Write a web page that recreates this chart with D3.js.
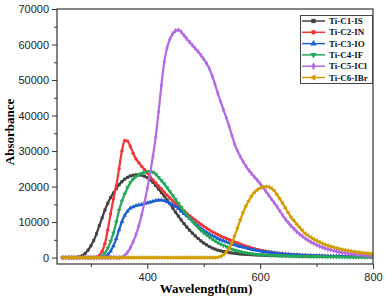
<!DOCTYPE html>
<html>
<head>
<meta charset="utf-8">
<script src="https://cdn.jsdelivr.net/npm/d3@7"></script>
<style>
  body { margin: 0; background: #fff; }
  svg { display: block; }
</style>
</head>
<body>
<svg id="chart"></svg>
<script>
var width = 387;
var height = 299;

// wavelength grid (nm), every 5 nm
var wavelengths = [250,255,260,265,270,275,280,285,290,295,
  300,305,310,315,320,325,330,335,340,345,
  350,355,360,365,370,375,380,385,390,395,
  400,405,410,415,420,425,430,435,440,445,
  450,455,460,465,470,475,480,485,490,495,
  500,505,510,515,520,525,530,535,540,545,
  550,555,560,565,570,575,580,585,590,595,
  600,605,610,615,620,625,630,635,640,645,
  650,655,660,665,670,675,680,685,690,695,
  700,705,710,715,720,725,730,735,740,745,
  750,755,760,765,770,775,780,785,790,795,800];

var seriesNames = ["Ti-C1-IS", "Ti-C2-IN", "Ti-C3-IO", "Ti-C4-IF", "Ti-C5-ICl", "Ti-C6-IBr"];

var c1 = [0,0,0,0,0,50,250,600,1200,2100,
  3300,4800,6700,9000,11200,13400,15300,16900,18200,19400,
  20500,21400,22100,22600,23000,23200,23300,23300,23200,22900,
  22500,21900,21200,20300,19300,18300,17300,16300,15200,14000,
  12800,11700,10600,9600,8600,7700,6900,6100,5400,4700,
  4100,3600,3100,2700,2400,2100,1900,1700,1600,1400,
  1300,1200,1100,1000,950,900,850,800,760,730,
  700,670,640,610,590,570,550,530,510,490,
  470,455,440,425,410,400,390,380,370,360,
  350,340,330,320,310,300,295,290,285,280,
  275,270,265,260,255,250,245,240,235,230,225];

var c2 = [0,0,0,0,0,0,0,0,0,0,
  0,50,200,600,1800,4000,7800,12300,16500,20200,
  25000,30000,33000,32800,31300,29400,27800,26700,25700,24800,
  23800,22800,21900,21000,20100,19300,18400,17600,16800,16000,
  15300,14600,13900,13200,12500,11800,11200,10600,10000,9400,
  8800,8300,7800,7300,6900,6500,6100,5700,5400,5100,
  4700,4400,4100,3800,3500,3200,3000,2700,2500,2300,
  2100,1950,1800,1650,1500,1400,1300,1200,1100,1000,
  950,900,850,800,750,700,650,620,590,560,
  530,500,480,460,440,420,400,385,370,355,
  340,330,320,310,300,290,280,270,260,250,240];

var c3 = [0,0,0,0,0,0,0,0,0,0,
  0,0,0,0,0,200,800,1800,3300,5300,
  7800,10100,11900,13100,13900,14300,14600,14800,15000,15200,
  15400,15600,15850,16050,16200,16200,16000,15700,15300,14900,
  14400,13800,13100,12400,11700,11000,10300,9600,8900,8200,
  7600,7100,6600,6200,5800,5400,5000,4700,4400,4100,
  3800,3600,3300,3100,2900,2700,2500,2300,2150,2000,
  1850,1700,1600,1500,1400,1300,1200,1120,1040,970,
  900,850,800,750,700,660,620,590,560,530,
  500,480,460,440,420,400,385,370,355,340,
  330,320,310,300,290,280,270,260,250,240,230];

var c4 = [0,0,0,0,0,0,0,0,0,0,
  0,0,0,100,500,1300,2700,4600,6900,10000,
  13300,15900,17900,19700,21100,22100,22800,23300,23700,24000,
  24200,24250,24100,23500,22600,21700,20800,19700,18600,17500,
  16400,15300,14200,13100,12100,11100,10200,9300,8500,7700,
  7000,6400,5800,5200,4700,4200,3800,3400,3100,2700,
  2400,2100,1900,1700,1500,1350,1200,1100,1000,920,
  850,800,750,700,660,620,580,550,520,490,
  460,440,420,400,380,360,340,320,300,285,
  270,255,240,230,220,210,200,190,180,175,
  170,165,160,155,150,145,140,135,130,125,120];

var c5 = [0,0,0,0,0,0,0,0,0,0,
  0,0,0,0,0,0,0,0,0,0,
  0,100,600,1500,2800,4500,6500,9000,12000,15500,
  19500,23800,28500,34000,41000,48500,55000,59000,61500,63000,
  63900,64100,63600,62600,61600,60700,59800,58900,58000,57000,
  55900,54700,53200,51200,48800,46300,43900,41600,39400,37000,
  34400,31900,30000,28400,27000,25700,24600,23600,22700,21800,
  20800,19800,18700,17600,16500,15400,14300,13100,11900,10800,
  9800,8900,8100,7300,6600,6000,5400,4900,4400,4000,
  3600,3200,2900,2650,2400,2200,2000,1800,1600,1450,
  1300,1200,1100,1000,900,820,740,670,600,540,480];

var c6 = [0,0,0,0,0,0,0,0,0,0,
  0,0,0,0,0,0,0,0,0,0,
  0,0,0,0,0,0,0,0,0,0,
  0,0,0,0,0,0,0,0,0,0,
  0,0,0,0,0,0,0,0,0,0,
  0,0,0,0,0,100,300,800,1500,2600,
  4200,6200,8400,10700,12800,14600,16100,17400,18400,19100,
  19600,19900,20000,19900,19500,18800,17700,16500,15200,13900,
  12600,11300,10400,9400,8500,7600,6800,6200,5700,5200,
  4800,4400,4000,3700,3400,3150,2900,2700,2500,2300,
  2150,2000,1850,1700,1580,1470,1370,1280,1200,1120,1050];

var allSeries = [c1, c2, c3, c4, c5, c6];
var colors = ["#424242", "#f23535", "#1c5fd2", "#24a85a", "#b36ae2", "#d29c00"];

var xTicks = [400, 600, 800];
var xMinor = [300, 500, 700];
var yTicks = [0, 10000, 20000, 30000, 40000, 50000, 60000, 70000];
var yMinor = [5000, 15000, 25000, 35000, 45000, 55000, 65000];

var plot = {left: 57, right: 373, top: 9, bottom: 264};

var svg = d3.select("#chart")
    .attr("width", width)
    .attr("height", height);

svg.append("rect")
    .attr("width", width).attr("height", height)
    .attr("fill", "#ffffff");

var x = d3.scaleLinear().domain([240, 800]).range([plot.left, plot.right]);
var y = d3.scaleLinear().domain([-1800, 70000]).range([plot.bottom, plot.top]);

// marker shapes, as in the legend
var rot = [0, 0, 0, 180, 0, -90];
var shapes = [d3.symbolSquare, d3.symbolCircle, d3.symbolTriangle, d3.symbolTriangle, d3.symbolDiamond, d3.symbolTriangle];

// axes
svg.append("g")
    .attr("transform", "translate(0," + plot.bottom + ")")
    .call(d3.axisBottom(x).tickValues(xTicks).tickSize(5).tickPadding(4));
svg.append("g")
    .attr("transform", "translate(0," + plot.bottom + ")")
    .call(d3.axisBottom(x).tickValues(xMinor).tickSize(3).tickFormat(""));

svg.append("g")
    .attr("transform", "translate(" + plot.left + ",0)")
    .call(d3.axisLeft(y).tickValues(yTicks).tickSize(5).tickPadding(3).tickFormat(d3.format("d")));
svg.append("g")
    .attr("transform", "translate(" + plot.left + ",0)")
    .call(d3.axisLeft(y).tickValues(yMinor).tickSize(3).tickFormat(""));

svg.selectAll(".domain").remove();
svg.selectAll(".tick line").attr("stroke", "#333").attr("stroke-width", 1);
svg.selectAll(".tick text")
    .attr("fill", "#222")
    .style("font-family", "'Liberation Sans', Arial, sans-serif")
    .style("font-size", "11px");

// curves
var line = d3.line()
    .x(function(d) { return x(d[0]); })
    .y(function(d) { return y(d[1]); })
    .curve(d3.curveMonotoneX);

svg.append("clipPath").attr("id", "clip")
    .append("rect")
    .attr("x", plot.left).attr("y", plot.top)
    .attr("width", plot.right - plot.left).attr("height", plot.bottom - plot.top);

var curves = svg.append("g").attr("clip-path", "url(#clip)");

allSeries.forEach(function(vals, i) {
    var pts = wavelengths.map(function(w, j) { return [w, vals[j]]; });
    var g = curves.append("g");
    g.append("path")
        .datum(pts)
        .attr("d", line)
        .attr("fill", "none")
        .attr("stroke", colors[i])
        .attr("stroke-width", 2.2);
    g.selectAll("path.mk")
        .data(pts)
        .enter()
        .append("path")
        .attr("class", "mk")
        .attr("d", d3.symbol().type(shapes[i]).size(9))
        .attr("transform", function(d) {
            return "translate(" + x(d[0]) + "," + y(d[1]) + ") rotate(" + rot[i] + ")";
        })
        .attr("fill", colors[i]);
});

// frame
svg.append("rect")
    .attr("x", plot.left).attr("y", plot.top)
    .attr("width", plot.right - plot.left).attr("height", plot.bottom - plot.top)
    .attr("fill", "none")
    .attr("stroke", "#333")
    .attr("stroke-width", 1.2);

// axis titles
svg.append("text")
    .attr("x", 206).attr("y", 293)
    .attr("text-anchor", "middle")
    .style("font-family", "'Liberation Serif', 'Times New Roman', serif")
    .style("font-weight", "bold")
    .style("font-size", "13px")
    .text("Wavelength(nm)");

svg.append("text")
    .attr("transform", "translate(14,132) rotate(-90)")
    .attr("text-anchor", "middle")
    .style("font-family", "'Liberation Serif', 'Times New Roman', serif")
    .style("font-weight", "bold")
    .style("font-size", "13px")
    .text("Absorbance");

// legend
var legend = svg.append("g");
legend.append("rect")
    .attr("x", 300.5).attr("y", 15.5)
    .attr("width", 72).attr("height", 68)
    .attr("fill", "#fff")
    .attr("stroke", "#444")
    .attr("stroke-width", 1);

seriesNames.forEach(function(name, i) {
    var ly = 21 + i * 11.3;
    legend.append("line")
        .attr("x1", 302).attr("x2", 325)
        .attr("y1", ly).attr("y2", ly)
        .attr("stroke", colors[i])
        .attr("stroke-width", 1.5);
    legend.append("path")
        .attr("d", d3.symbol().type(shapes[i]).size(18))
        .attr("transform", "translate(313.5," + ly + ") rotate(" + rot[i] + ")")
        .attr("fill", colors[i]);
    legend.append("text")
        .attr("x", 329).attr("y", ly + 3)
        .style("font-family", "'Liberation Serif', 'Times New Roman', serif")
        .style("font-weight", "bold")
        .style("font-size", "9px")
        .attr("fill", "#111")
        .text(name);
});
</script>
</body>
</html>
